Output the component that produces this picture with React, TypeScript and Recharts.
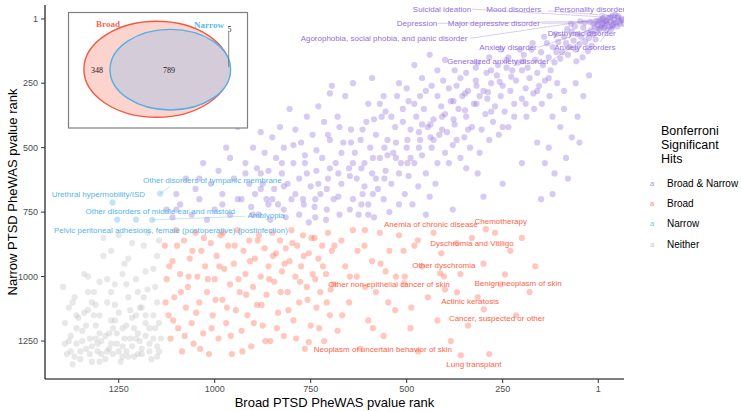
import React from 'react';
import { ScatterChart, Scatter, XAxis, YAxis, ReferenceLine, Legend } from 'recharts';

const FONT = '"Liberation Sans", Arial, Helvetica, sans-serif';
const SERIF = '"Liberation Serif", "Times New Roman", serif';

const C_BOTH = '#9370DB';
const C_BROAD = '#FF6347';
const C_NARROW = '#56B4E9';
const C_NEITHER = '#BEBEBE';

// [broad rank, narrow rank]
const bothHits: [number, number][] = [
  [-30,-5],[-50,-10],[-60,5],[-20,10],[-40,15],[-10,0],[-55,20],[-15,25],[-35,30],[-5,35],
  [-60,0],[-55,10],[-50,-5],[-45,15],[-40,5],[-38,25],[-35,-10],[-30,12],[-28,30],[-25,0],[-22,20],[-18,8],[-15,35],[-12,-2],[-10,18],[-8,28],[-5,5],[-2,40],[0,12],[3,25],[-65,20],[-48,30],[-33,40],[-20,45],[-42,-15],
  [5,50],[10,30],[15,60],[20,45],[25,75],[30,55],[35,90],[40,35],[45,70],[50,100],[55,60],[60,120],[65,85],[70,50],[75,110],[80,140],[85,95],[90,70],[95,130],[100,155],[8,80],[18,105],[28,125],[42,150],[58,165],
  [105,90],[110,130],[115,170],[120,110],[125,200],[130,150],[135,95],[140,240],[145,180],[150,130],[155,260],[160,210],[165,160],[170,290],[175,120],[180,230],[185,190],[190,270],[195,140],[200,310],[108,250],[128,300],[148,330],[168,350],[188,380],
  [210,170],[215,240],[220,330],[225,200],[230,280],[235,420],[240,190],[245,360],[250,260],[255,300],[260,450],[265,220],[270,340],[275,400],[280,250],[285,470],[290,310],[295,370],[300,280],[305,430],
  [320,240],[325,330],[330,420],[335,500],[340,280],[345,380],[350,460],[355,300],[360,540],[365,350],[370,260],[375,410],[380,490],[385,320],[390,560],[395,440],[400,370],[310,520],[315,600],[345,580],
  [410,340],[415,450],[420,560],[425,640],[430,390],[435,500],[440,690],[445,420],[450,600],[455,350],[460,530],[465,470],[470,650],[475,380],[480,560],[485,720],[490,430],[495,610],[500,500],[505,680],[510,400],[515,560],
  [530,420],[535,520],[540,640],[545,750],[550,470],[555,590],[560,700],[565,380],[570,540],[575,660],[580,450],[585,770],[590,600],[595,500],[600,720],[605,400],[610,560],[615,680],[620,470],[625,760],[630,620],[635,520],[640,700],[645,430],[650,580],
  [660,300],[665,480],[670,640],[675,760],[680,380],[685,560],[690,700],[695,260],[700,470],[705,620],[710,780],[715,400],[720,540],[725,680],[730,340],[735,590],[740,730],[745,450],[750,650],[755,790],[760,380],[765,560],[770,700],[775,480],[780,620],
  [790,430],[795,560],[800,700],[805,350],[810,640],[815,770],[820,500],[825,600],[830,420],[835,720],[840,540],[845,660],[850,460],[855,780],[860,590],[865,700],[870,520],[875,640],[880,440],[885,760],[890,580],[895,680],[900,500],[905,730],
  [920,560],[930,700],[940,420],[950,620],[960,760],[970,500],[980,680],[990,590],[1000,740],[1010,640],[1020,780],[1030,560],[1040,700],[1050,660],[1060,760],[1075,620],[1090,720],[1100,680],[1110,770],[1125,740],
  [25,220],[40,300],[55,380],[70,460],[85,540],[100,420],[115,600],[130,500],[60,250],[90,350],[120,680],[140,560],[80,620],[150,700],[50,480],
  [400,160],[420,200],[440,140],[460,230],[480,180],[500,270],[520,250],[560,300],[600,330],[640,250],[700,290],[590,230],
  [130,230],[160,280],[190,330],[220,380],[250,420],[280,360],[310,300],[340,430],[370,470],[400,520],[430,470],[460,410],[490,540],[520,600],[550,530],[580,620],[610,650],[640,560],[670,520],[700,580],[730,640],[760,600],[790,680],[820,740],[850,700],[880,660],[910,640],[940,700],[200,200],[240,160],[280,200],[320,190],[360,230],[390,270],[420,300],[450,280],[480,330],[510,350],[540,380],[570,330],
  [205,120],[235,150],[262,180],[292,210],[318,260],[348,290],[378,320],[408,380],[438,410],[468,440],[498,470],[528,480],[558,500],[588,540],[618,580],[648,610],[678,600],[708,660],[738,700],[768,720],
  [172,95],[198,165],[228,225],[258,245],[288,285],[318,330],[348,355],[378,390],[408,430],[438,460],[468,500],[498,560],[528,540],[558,620],[588,680],[618,720],[648,740],[678,690],[708,740],[738,770],
  [142,70],[112,60],[82,40],[72,20],[62,30],[48,10],[36,15],[22,12],[14,22],[6,8],
  [255,120],[285,150],[315,170],[345,210],[375,200],[405,240],[435,260],[465,300],[495,320],[525,300],[555,360],[585,390],[615,430],[645,480],[675,420],[705,450],[735,510],[765,530],[795,490],[825,560],
  [600,760],[520,720],[450,760],[380,740],[300,690],[250,640],[200,560],[160,480],[120,380],[90,280],
  [880,600],[860,720],[920,600],[980,720],[1040,620],[1100,740],[960,540],[900,760],[820,650],[780,760],
];

const broadHits: [number, number][] = [
  [359,1305],[299,1127],[369,1061],[244,991],[755,1254],[413,987],[403,999],[471,859],[294,816],[609,820],[507,1026],
  [1130,880],[1125,1010],[1120,1150],[1115,1240],[1110,940],[1105,1080],[1100,820],[1095,1200],[1090,990],[1085,1290],[1080,860],[1075,1120],[1070,1040],[1065,930],[1060,1180],[1055,1260],[1050,830],[1045,1000],[1040,1100],[1035,900],[1030,1220],[1025,960],[1020,1060],[1015,1300],[1010,870],[1005,1150],[1000,1010],
  [995,920],[990,1240],[985,840],[980,1090],[975,970],[970,1180],[965,880],[960,1030],[955,1300],[950,950],[945,1130],[940,820],[935,1060],[930,1210],[925,900],[920,990],[915,1150],[910,860],[905,1270],[900,1040],[895,930],[890,1110],[885,840],[880,1000],[875,1190],[870,890],[865,1070],[860,960],[855,1250],[850,830],
  [845,1020],[840,910],[835,1140],[830,860],[825,980],[820,1230],[815,890],[810,1060],[805,940],[800,820],[795,1170],[790,1000],[785,880],[780,1100],[775,960],[770,840],[765,1280],[760,1040],[755,910],[750,1190],[745,990],[740,850],[735,1120],[730,930],[725,1060],[720,880],[715,1250],[710,990],[705,830],[700,1150],
  [695,900],[690,1030],[680,1210],[670,860],[660,960],[650,1100],[640,820],[630,1000],[620,1280],[610,880],[600,1170],[590,940],[580,1060],[570,830],[560,1230],[555,980],
  [545,900],[530,1130],[520,840],[505,1000],[490,1200],[480,880],[470,1290],[460,960],[445,1080],[430,830],[420,1170],[410,910],[400,1050],[385,1250],[370,870],[360,990],
  [340,1190],[330,850],[315,1080],[300,950],[285,1300],[270,830],[255,1030],[230,900],[215,1150],[200,850],[180,1060],[165,960],
  [1128,1100],[1118,960],[1108,1170],[1098,880],[1088,1060],[1078,1230],[1068,1000],[1058,900],[1048,1140],[1038,1280],[1028,850],[1018,1010],[1008,1200],[998,1090],[988,960],[978,830],[968,1120],[958,1230],[948,880],[938,1010],[928,1290],[918,1070],[908,940],[898,1180],[888,860],[878,1110],[868,1250],[858,1010],[848,920],[838,1200],[828,1060],[818,950],[808,1130],[798,870],[788,1240],[778,1020],[768,920],[758,1090],[748,850],[738,1010],[728,1200],[718,960],[708,1100],[698,1050],[688,880],[668,1150],[648,1000],[628,900],[608,1040],[588,1200],[568,950],[548,1100],[528,1000],[508,900],[488,1120],
];

const narrowHits: [number, number][] = [
  [1142,678],[1266,713],[1254,779],[1205,779],[1163,780],
];

const neitherHits: [number, number][] = [
  [1395,1040],[1390,1180],[1385,1300],[1380,1120],[1375,1230],[1370,1340],[1365,1080],[1360,1260],[1355,1160],[1350,1320],[1345,1210],[1340,990],[1335,1280],[1330,1130],[1325,1240],[1320,1330],[1315,1060],[1310,1190],[1305,1290],[1300,1150],[1295,1250],[1290,920],[1285,1320],[1280,1100],[1275,1220],[1270,1170],[1265,1300],[1260,1030],[1255,1260],[1250,1140],[1245,1330],[1240,1200],[1235,950],[1230,1290],[1225,1080],[1220,1240],[1215,1160],[1210,1310],[1205,1010],[1200,1220],[1195,1120],[1190,1280],[1185,880],[1180,1180],[1175,1050],[1170,1260],[1165,1320],[1160,970],[1155,1200],[1150,1100],[1145,1290],[1140,1240],
  [1380,1250],[1360,1200],[1340,1140],[1320,1270],[1300,1220],[1280,1290],[1260,1170],[1240,1270],[1220,1130],[1200,1300],[1180,1230],[1160,1150],[1300,1330],[1350,1290],[1255,1220],[1230,1190],[1195,1250],[1170,1200],[1150,1270],[1310,1240],[1270,1260],[1240,1310],[1210,1200],
  [1330,1000],[1270,1060],[1215,870],[1180,980],[1250,840],[1150,920],[1200,1060],[1300,1020],[1360,1150],[1240,990],[1175,830],[1290,850],[1225,930],[1155,1040],[1190,1120],[1260,1110],[1320,1100],[1145,860],[1205,1150],
  [1390,1260],[1375,1290],[1365,1310],[1345,1250],[1335,1190],[1325,1300],[1315,1150],[1305,1260],[1295,1300],[1285,1230],[1275,1280],[1265,1200],[1250,1290],[1235,1240],[1225,1310],[1215,1270],[1205,1240],[1190,1300],[1180,1150],[1170,1290],[1160,1240],[1150,1310],[1145,1180],[1330,1060],[1280,1010],[1230,1030],[1185,1080],[1370,1100],[1310,1110],[1270,900],
];

const xTicks = [1, 250, 500, 750, 1000, 1250];
const yTicks = [1, 250, 500, 750, 1000, 1250];

const vennBroadOnly = 348;
const vennBoth = 789;
const vennNarrowOnly = 5;

const legendItems = [
  { name: 'Broad & Narrow', color: C_BOTH },
  { name: 'Broad', color: C_BROAD },
  { name: 'Narrow', color: C_NARROW },
  { name: 'Neither', color: C_NEITHER },
];

type Lab = { text: string; x: number; y: number; px?: number; py?: number; sx?: number; sy?: number };
const bothLabels: Lab[] = [
  { text: 'Suicidal ideation', x: 408, y: -37, px: -30, py: -5, sx: 330, sy: -37 },
  { text: 'Mood disorders', x: 221, y: -37, px: -50, py: -10, sx: 132, sy: -30 },
  { text: 'Personality disorders', x: 18, y: -37, px: -60, py: 5, sx: -3, sy: -22 },
  { text: 'Depression', x: 473, y: 18, px: -20, py: 10, sx: 419, sy: 18 },
  { text: 'Major depressive disorder', x: 273, y: 17, px: -40, py: 15, sx: 148, sy: 18 },
  { text: 'Agorophobia, social phobia, and panic disorder', x: 559, y: 76, px: -10, py: 0, sx: 333, sy: 76 },
  { text: 'Dysthymic disorder', x: 44, y: 57, px: -55, py: 20, sx: -16, sy: 40 },
  { text: 'Anxiety disorder', x: 236, y: 111, px: -15, py: 25, sx: 158, sy: 111 },
  { text: 'Anxiety disorders', x: 36, y: 111, px: -35, py: 30, sx: -3, sy: 91 },
  { text: 'Generalized anxiety disorder', x: 262, y: 167, px: -5, py: 35, sx: 127, sy: 167 },
];
const narrowLabels: Lab[] = [
  { text: 'Other disorders of tympanic membrane', x: 1006, y: 629, px: 1142, py: 678, sx: 1116, sy: 650 },
  { text: 'Urethral hypermobility/ISD', x: 1303, y: 680 },
  { text: 'Other disorders of middle ear and mastoid', x: 1142, y: 748 },
  { text: 'Amblyopia', x: 866, y: 762, px: 1163, py: 780, sx: 919, sy: 766 },
  { text: 'Pelvic peritoneal adhesions, female (postoperative) (postinfection)', x: 1114, y: 821 },
];
const broadLabels: Lab[] = [
  { text: 'Anemia of chronic disease', x: 437, y: 797 },
  { text: 'Chemotherapy', x: 255, y: 788 },
  { text: 'Dyschromia and Vitiligo', x: 330, y: 870 },
  { text: 'Other dyschromia', x: 403, y: 957 },
  { text: 'Benign neoplasm of skin', x: 210, y: 1025 },
  { text: 'Other non-epithelial cancer of skin', x: 546, y: 1031 },
  { text: 'Actinic keratosis', x: 335, y: 1096 },
  { text: 'Cancer, suspected or other', x: 265, y: 1163 },
  { text: 'Neoplasm of uncertain behavior of skin', x: 562, y: 1282 },
  { text: 'Lung transplant', x: 325, y: 1340 },
];

const toPts = (a: [number, number][]) => a.map(([x, y]) => ({ x, y }));

const dot = (color: string) => (props: any) => (
  <circle cx={props.cx} cy={props.cy} r={3.1} fill={color} fillOpacity={0.36} />
);

const labelShape = (color: string) => (props: any) => (
  <text x={props.cx} y={props.cy} textAnchor="middle" dominantBaseline="central"
    fontSize={8} fill={color} fontFamily={FONT}>{props.payload.text}</text>
);

const segs = (labs: Lab[], color: string, prefix: string) =>
  labs.filter(l => l.sx !== undefined).map((l, i) => (
    <ReferenceLine key={prefix + i} ifOverflow="visible"
      segment={[{ x: l.sx, y: l.sy }, { x: l.px, y: l.py }]}
      stroke={color} strokeOpacity={0.5} strokeWidth={0.7} />
  ));

const LegendBox = () => (
  <div style={{ fontFamily: FONT, color: '#000' }}>
    <div style={{ fontSize: 12.5, lineHeight: '14px', marginLeft: 11 }}>Bonferroni<br />Significant<br />Hits</div>
    <div style={{ marginTop: 7 }}>
      {legendItems.map(it => (
        <div key={it.name} style={{ display: 'flex', alignItems: 'center', height: 20.4 }}>
          <span style={{ width: 17, fontSize: 7.5, color: it.color, opacity: 0.8, textAlign: 'left' }}>a</span>
          <span style={{ fontSize: 10 }}>{it.name}</span>
        </div>
      ))}
    </div>
  </div>
);

export default function App() {
  return (
    <div style={{ position: 'absolute', left: 0, top: 0, width: 741, height: 411, background: '#fff' }}>
      <ScatterChart width={741} height={411} margin={{ top: 5, right: 117, bottom: 0, left: 0 }}>
        <XAxis type="number" dataKey="x" domain={[-66, 1442]} reversed allowDataOverflow ticks={xTicks} interval={0}
          height={32} tickSize={4} tickMargin={3}
          tick={{ fill: '#4D4D4D', fontSize: 9, fontFamily: FONT }}
          tickLine={{ stroke: '#333' }} axisLine={{ stroke: '#000', strokeWidth: 1.1 }}
          label={{ value: 'Broad PTSD PheWAS pvalue rank', position: 'insideBottom', offset: 4, fill: '#000', fontSize: 13, fontFamily: FONT }} />
        <YAxis type="number" dataKey="y" domain={[-53, 1397]} reversed allowDataOverflow ticks={yTicks} interval={0}
          width={45} tickSize={4} tickMargin={3}
          tick={{ fill: '#4D4D4D', fontSize: 9, fontFamily: FONT }}
          tickLine={{ stroke: '#333' }} axisLine={{ stroke: '#000', strokeWidth: 1.1 }}
          label={{ value: 'Narrow PTSD PheWAS pvalue rank', angle: -90, position: 'insideLeft', offset: 12, fill: '#000', fontSize: 13, fontFamily: FONT, style: { textAnchor: 'middle' } }} />
        <Scatter name="Neither" data={toPts(neitherHits)} shape={dot(C_NEITHER)} isAnimationActive={false} />
        <Scatter name="Broad" data={toPts(broadHits)} shape={dot(C_BROAD)} isAnimationActive={false} />
        <Scatter name="Broad & Narrow" data={toPts(bothHits)} shape={dot(C_BOTH)} isAnimationActive={false} />
        <Scatter name="Narrow" data={toPts(narrowHits)} shape={dot(C_NARROW)} isAnimationActive={false} />
        {segs(bothLabels, C_BOTH, 'b')}
        {segs(narrowLabels, C_NARROW, 'n')}
        <Scatter name="lab1" data={bothLabels} shape={labelShape(C_BOTH)} isAnimationActive={false} legendType="none" />
        <Scatter name="lab2" data={narrowLabels} shape={labelShape(C_NARROW)} isAnimationActive={false} legendType="none" />
        <Scatter name="lab3" data={broadLabels} shape={labelShape(C_BROAD)} isAnimationActive={false} legendType="none" />
        <Legend layout="horizontal" verticalAlign="middle" align="center" content={() => <LegendBox />}
          wrapperStyle={{ position: 'absolute', left: 650, top: 124, width: 91, height: 140 }} />
      </ScatterChart>
      <svg width={741} height={411} style={{ position: 'absolute', left: 0, top: 0, pointerEvents: 'none' }}>
        <rect x={68.5} y={12.5} width={179} height={115.5} fill="#fff" stroke="#7f7f7f" strokeWidth={1.2} />
        <ellipse cx={156.7} cy={69.3} rx={72.8} ry={48} fill="#FDD3CE" stroke="#F2583E" strokeWidth={1.4} />
        <ellipse cx={170.3} cy={69.7} rx={60.3} ry={40.3} fill="#D5CCDA" stroke="#52B0E6" strokeWidth={1.4} />
        <text x={108} y={24} textAnchor="middle" dominantBaseline="central" fontFamily={SERIF} fontWeight="bold" fontSize={9} fill="#F46A55">Broad</text>
        <text x={209} y={25} textAnchor="middle" dominantBaseline="central" fontFamily={SERIF} fontWeight="bold" fontSize={9} fill="#5BB8EC">Narrow</text>
        <text x={97} y={70} textAnchor="middle" dominantBaseline="central" fontFamily={SERIF} fontSize={8} fill="#222">{vennBroadOnly}</text>
        <text x={169} y={70} textAnchor="middle" dominantBaseline="central" fontFamily={SERIF} fontSize={8} fill="#222">{vennBoth}</text>
        <text x={229.5} y={29} textAnchor="middle" dominantBaseline="central" fontFamily={SERIF} fontSize={8} fill="#222">{vennNarrowOnly}</text>
        <line x1={228.7} y1={32} x2={228.7} y2={67} stroke="#666" strokeWidth={0.8} />
      </svg>
    </div>
  );
}
